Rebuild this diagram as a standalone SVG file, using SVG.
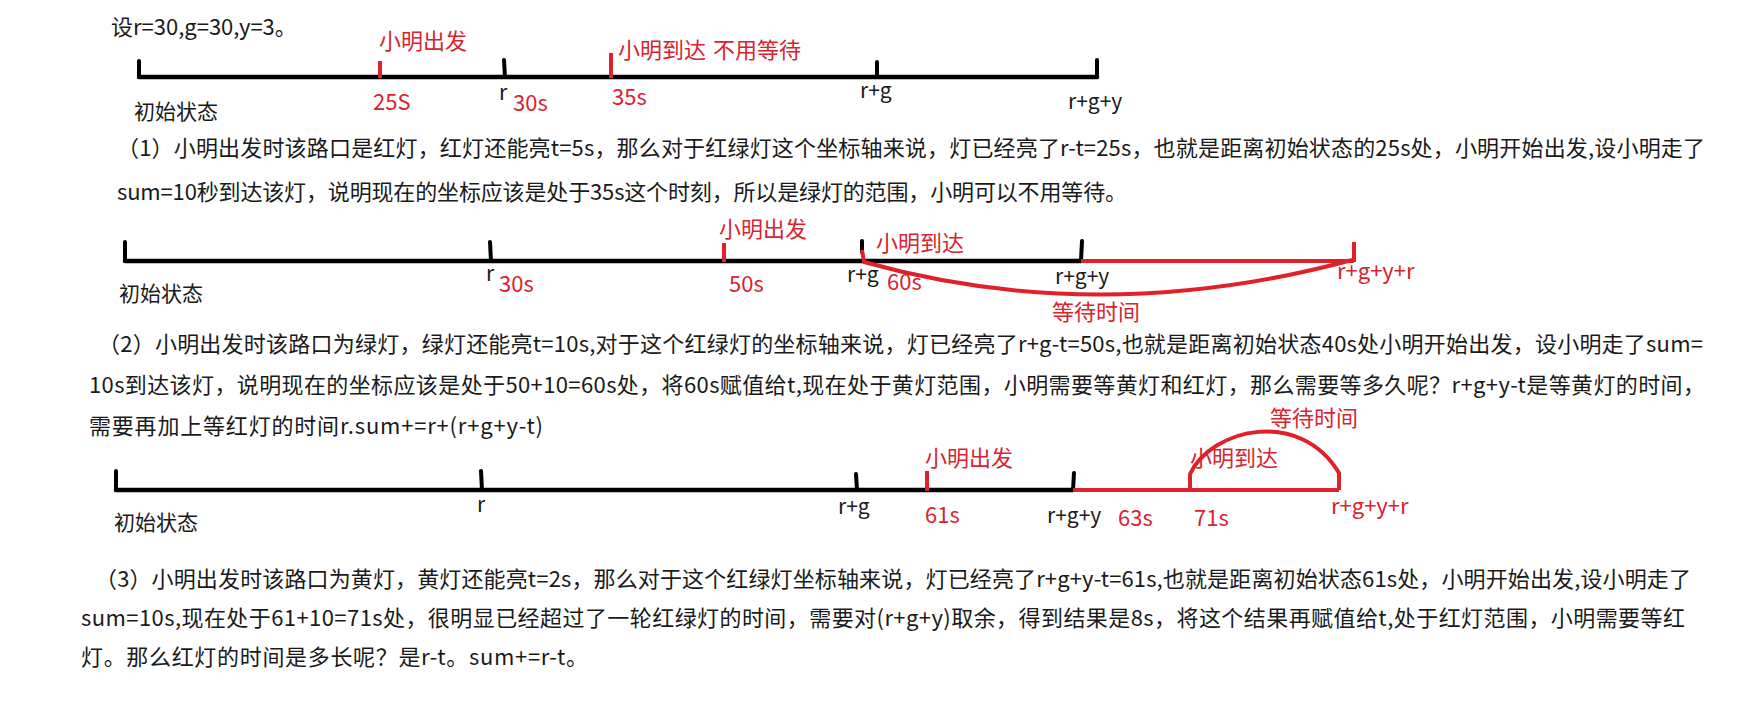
<svg xmlns="http://www.w3.org/2000/svg" width="1747" height="708" viewBox="0 0 1747 708">
<style>
text{font-family:"Microsoft YaHei","Noto Sans CJK SC","Noto Sans",sans-serif;}
.t{font-size:22px;fill:#1a1a1a;}
.k{font-size:21px;fill:#1a1a1a;}
.r{font-size:22px;fill:#d9232e;}
.ax{stroke:#000;stroke-width:4.5;stroke-linecap:round;fill:none;}
.tk{stroke:#000;stroke-width:4;stroke-linecap:round;fill:none;}
.rt{stroke:#e0202a;stroke-width:4;stroke-linecap:butt;fill:none;}
.rl{stroke:#e0202a;stroke-width:4;fill:none;stroke-linejoin:round;}
</style>
<rect width="1747" height="708" fill="#fff"/>

<g id="intro">
<text class="t" x="111" y="35">设r=30,g=30,y=3。</text>
</g>

<g id="axis1">
<line class="ax" x1="139" y1="77" x2="1097" y2="77"/>
<line class="tk" x1="139" y1="61" x2="139" y2="77"/>
<line class="tk" x1="504" y1="60" x2="505" y2="77"/>
<line class="tk" x1="877" y1="62" x2="877" y2="77"/>
<line class="tk" x1="1097" y1="60" x2="1097" y2="77"/>
<line class="rt" x1="380" y1="61" x2="380" y2="78"/>
<line class="rt" x1="611" y1="53" x2="611" y2="78"/>
<text class="r" x="379" y="49">小明出发</text>
<text class="r" x="618" y="58">小明到达</text>
<text class="r" x="713" y="58">不用等待</text>
<text class="k" x="134" y="119">初始状态</text>
<text class="r" x="373" y="110">25S</text>
<text class="k" x="499" y="100">r</text>
<text class="r" x="513" y="111">30s</text>
<text class="r" x="612" y="105">35s</text>
<text class="k" x="860" y="98">r+g</text>
<text class="k" x="1068" y="109">r+g+y</text>
</g>

<g id="para1">
<text class="t" x="117" y="156" textLength="1588" lengthAdjust="spacing">（1）小明出发时该路口是红灯，红灯还能亮t=5s，那么对于红绿灯这个坐标轴来说，灯已经亮了r-t=25s，也就是距离初始状态的25s处，小明开始出发,设小明走了</text>
<text class="t" x="117" y="200" textLength="1010" lengthAdjust="spacing">sum=10秒到达该灯，说明现在的坐标应该是处于35s这个时刻，所以是绿灯的范围，小明可以不用等待。</text>
</g>

<g id="axis2">
<line class="ax" x1="125" y1="261" x2="1081" y2="261"/>
<line class="tk" x1="125" y1="242" x2="125" y2="261"/>
<line class="tk" x1="490" y1="242" x2="491" y2="261"/>
<line class="tk" x1="862" y1="241" x2="862" y2="252"/>
<line class="tk" x1="1082" y1="241" x2="1081" y2="261"/>
<line class="rt" x1="724" y1="243" x2="724" y2="262"/>
<line class="rl" x1="1081" y1="261" x2="1354" y2="261"/>
<line class="rt" x1="1354" y1="242" x2="1354" y2="262"/>
<path class="rl" d="M 862 250 L 864 262 Q 1100 328 1352 260"/>
<text class="r" x="719" y="237">小明出发</text>
<text class="r" x="876" y="251">小明到达</text>
<text class="k" x="119" y="301">初始状态</text>
<text class="k" x="486" y="281">r</text>
<text class="r" x="499" y="292">30s</text>
<text class="r" x="729" y="292">50s</text>
<text class="k" x="847" y="282">r+g</text>
<text class="r" x="887" y="290">60s</text>
<text class="k" x="1055" y="284">r+g+y</text>
<text class="r" x="1052" y="320">等待时间</text>
<text class="r" x="1337" y="279">r+g+y+r</text>
</g>

<g id="para2">
<text class="t" x="98" y="352" textLength="1605" lengthAdjust="spacing">（2）小明出发时该路口为绿灯，绿灯还能亮t=10s,对于这个红绿灯的坐标轴来说，灯已经亮了r+g-t=50s,也就是距离初始状态40s处小明开始出发，设小明走了sum=</text>
<text class="t" x="89" y="393" textLength="1616" lengthAdjust="spacing">10s到达该灯，说明现在的坐标应该是处于50+10=60s处，将60s赋值给t,现在处于黄灯范围，小明需要等黄灯和红灯，那么需要等多久呢？r+g+y-t是等黄灯的时间，</text>
<text class="t" x="89" y="434" textLength="454" lengthAdjust="spacing">需要再加上等红灯的时间r.sum+=r+(r+g+y-t)</text>
</g>

<g id="axis3">
<line class="ax" x1="116" y1="490" x2="1073" y2="490"/>
<line class="tk" x1="116" y1="471" x2="116" y2="490"/>
<line class="tk" x1="481" y1="471" x2="482" y2="490"/>
<line class="tk" x1="856" y1="474" x2="857" y2="490"/>
<line class="tk" x1="1074" y1="473" x2="1073" y2="490"/>
<line class="rt" x1="927" y1="471" x2="927" y2="491"/>
<line class="rl" x1="1073" y1="490" x2="1339" y2="490"/>
<path class="rl" d="M 1190 490 L 1190 474 C 1212 428 1300 408 1339 473 L 1339 490"/>
<text class="r" x="925" y="466">小明出发</text>
<text class="r" x="1190" y="466">小明到达</text>
<text class="r" x="1270" y="426">等待时间</text>
<text class="k" x="114" y="530">初始状态</text>
<text class="k" x="477" y="512">r</text>
<text class="k" x="838" y="514">r+g</text>
<text class="r" x="925" y="523">61s</text>
<text class="k" x="1047" y="523">r+g+y</text>
<text class="r" x="1118" y="526">63s</text>
<text class="r" x="1194" y="526">71s</text>
<text class="r" x="1331" y="514">r+g+y+r</text>
</g>

<g id="para3">
<text class="t" x="95" y="587" textLength="1596" lengthAdjust="spacing">（3）小明出发时该路口为黄灯，黄灯还能亮t=2s，那么对于这个红绿灯坐标轴来说，灯已经亮了r+g+y-t=61s,也就是距离初始状态61s处，小明开始出发,设小明走了</text>
<text class="t" x="81" y="626" textLength="1604" lengthAdjust="spacing">sum=10s,现在处于61+10=71s处，很明显已经超过了一轮红绿灯的时间，需要对(r+g+y)取余，得到结果是8s，将这个结果再赋值给t,处于红灯范围，小明需要等红</text>
<text class="t" x="81" y="665" textLength="507" lengthAdjust="spacing">灯。那么红灯的时间是多长呢？是r-t。sum+=r-t。</text>
</g>
</svg>
